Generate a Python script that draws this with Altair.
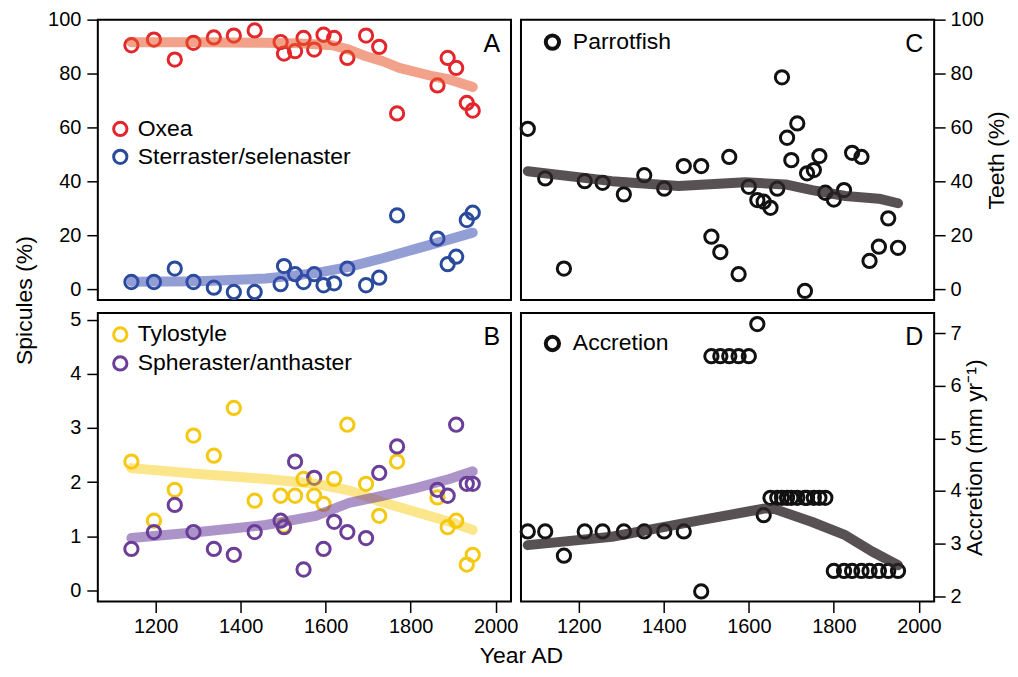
import altair as alt
import pandas as pd

FONT = "Liberation Sans"

# ---------------- data: spicules (panels A, B) ----------------
spic_years = [1143, 1196, 1245, 1289, 1337, 1384, 1433, 1494, 1502, 1528, 1548, 1573,
              1595, 1620, 1651, 1695, 1726, 1768, 1863, 1887, 1907, 1932, 1946]
oxea = [90.5, 92.6, 85.2, 91.4, 93.4, 94.1, 96.0, 91.7, 87.4, 88.3, 93.2, 88.9,
        94.4, 93.2, 85.8, 94.1, 89.9, 65.2, 75.6, 85.8, 82.1, 69.1, 66.3]
sterraster = [2.7, 2.7, 7.7, 2.7, 0.6, -1.0, -1.0, 1.9, 8.6, 5.6, 2.7, 5.6,
              1.5, 2.2, 7.7, 1.5, 4.3, 27.4, 18.8, 9.3, 12.1, 25.7, 28.4]
tylostyle = [2.38, 1.29, 1.86, 2.86, 2.49, 3.37, 1.66, 1.75, 1.20, 1.75, 2.06, 1.75,
             1.60, 2.06, 3.06, 1.97, 1.38, 2.38, 1.72, 1.17, 1.29, 0.48, 0.66]
spheraster = [0.77, 1.08, 1.58, 1.08, 0.77, 0.66, 1.08, 1.29, 1.17, 2.38, 0.39, 2.08,
              0.77, 1.27, 1.08, 0.97, 2.17, 2.66, 1.86, 1.75, 3.06, 1.97, 1.97]

# trend lines
oxea_trend_years = [1143, 1302, 1459, 1538, 1616, 1655, 1695, 1734, 1773, 1852, 1891, 1946]
oxea_trend = [91.6, 91.6, 91.4, 91.2, 90.5, 88.9, 86.4, 84.6, 82.1, 79.0, 77.8, 75.0]
sterr_trend_years = [1143, 1302, 1459, 1577, 1655, 1734, 1812, 1891, 1946]
sterr_trend = [2.8, 3.0, 4.0, 6.0, 8.3, 11.5, 15.0, 18.5, 21.0]
tylo_trend_years = [1143, 1302, 1459, 1577, 1655, 1734, 1812, 1891, 1946]
tylo_trend = [2.26, 2.15, 2.06, 1.97, 1.85, 1.63, 1.45, 1.27, 1.12]
sphe_trend_years = [1143, 1302, 1459, 1577, 1655, 1734, 1812, 1891, 1946]
sphe_trend = [0.97, 1.08, 1.21, 1.38, 1.62, 1.75, 1.89, 2.06, 2.20]

# ---------------- data: core (panels C, D) ----------------
core_years = [1080, 1121, 1165, 1214, 1256, 1306, 1354, 1401, 1447, 1488, 1512, 1533,
              1554, 1576, 1600, 1620, 1635, 1651, 1667, 1678, 1690, 1700, 1714, 1732,
              1737, 1753, 1766, 1780, 1800, 1824, 1843, 1865, 1884, 1906, 1928, 1951]
parrotfish = [59.5, 41.1, 7.7, 40.1, 39.5, 35.2, 42.3, 37.3, 45.7, 45.7, 19.5, 13.8,
              49.1, 5.6, 38.0, 33.1, 32.5, 30.2, 37.3, 78.6, 56.2, 47.9, 61.5, -0.6,
              43.0, 44.2, 49.4, 35.8, 33.3, 36.8, 50.6, 49.1, 10.5, 15.8, 26.3, 15.4]
accretion = [3.23, 3.23, 2.77, 3.23, 3.23, 3.23, 3.23, 3.23, 3.23, 2.09, 6.56, 6.56,
             6.56, 6.56, 6.56, 7.17, 3.54, 3.87, 3.87, 3.87, 3.87, 3.87, 3.87, 3.87,
             3.87, 3.87, 3.87, 3.87, 2.48, 2.48, 2.48, 2.48, 2.48, 2.48, 2.48, 2.48]
parrot_trend_years = [1080, 1278, 1435, 1592, 1686, 1749, 1827, 1906, 1951]
parrot_trend = [43.8, 40.1, 38.3, 39.7, 38.9, 36.8, 34.6, 33.6, 31.9]
accr_trend_years = [1080, 1278, 1490, 1592, 1640, 1663, 1749, 1827, 1890, 1951]
accr_trend = [2.97, 3.13, 3.45, 3.60, 3.67, 3.65, 3.41, 3.16, 2.85, 2.59]

panel_letters = ["A", "B", "C", "D"]
x_ticks = [1200, 1400, 1600, 1800, 2000]

# ---------------- layout / style ----------------
W = 414
H_TOP = 281
H_BOT = 289
XDOM = [1064, 2036]


def y_axis(orient, values, title=None, **kw):
    props = dict(orient=orient, values=values, tickSize=11, tickWidth=1.5, tickColor="black",
                 domain=False, grid=False, labelFontSize=20, labelFont=FONT, labelColor="black",
                 labelPadding=6, labelFlush=False, title=title, titleFontSize=23, titleFont=FONT,
                 titleFontWeight="normal", titleColor="black", titleAngle=270)
    props.update(kw)
    return alt.Axis(**props)


def x_axis(title=None, **kw):
    props = dict(values=x_ticks, format="d", tickSize=11, tickWidth=1.5, tickColor="black",
                 domain=False, grid=False, labelFontSize=20, labelFont=FONT, labelColor="black",
                 labelPadding=4, labelFlush=False, title=title, titleFontSize=23, titleFont=FONT,
                 titleFontWeight="normal", titleColor="black")
    props.update(kw)
    return alt.Axis(**props)


def legend(lx, ly, offset, sw, rowpad):
    return alt.Legend(orient="none", legendX=lx, legendY=ly, title=None, symbolType="circle",
                      symbolSize=177, symbolStrokeWidth=sw, labelFontSize=23, labelFont=FONT,
                      labelColor="black", rowPadding=rowpad, labelOffset=offset, padding=0,
                      labelLimit=500)


def panel(years, names, values_list, colors, trends, ydom, yax, xax, leg, letter, height):
    rows = []
    for name, vals in zip(names, values_list):
        for yr, v in zip(years, vals):
            rows.append({"Year": yr, "Value": v, "Series": name})
    df = pd.DataFrame(rows)
    xenc = alt.X("Year:Q", scale=alt.Scale(domain=XDOM, nice=False, zero=False), axis=xax)
    yenc = alt.Y("Value:Q", scale=alt.Scale(domain=ydom, nice=False, zero=False), axis=yax)
    pts = alt.Chart(df).mark_point(shape="circle", filled=False, size=177, strokeWidth=3,
                                   opacity=1).encode(
        x=xenc, y=yenc,
        color=alt.Color("Series:N", scale=alt.Scale(domain=names, range=colors), legend=leg),
    )
    layers = [pts]
    for tyears, tvals, tcolor, top in trends:
        tdf = pd.DataFrame({"Year": tyears, "Value": tvals})
        layers.append(alt.Chart(tdf).mark_line(color=tcolor, strokeWidth=10, opacity=top,
                                               strokeCap="round", strokeJoin="round").encode(
            x=xenc, y=yenc))
    lab = alt.Chart(pd.DataFrame({"label": [letter]})).mark_text(
        align="right", baseline="alphabetic", fontSize=25, font=FONT, color="black"
    ).encode(x=alt.value(W - 11), y=alt.value(32), text="label:N")
    layers.append(lab)
    return alt.layer(*layers).properties(width=W, height=height)


pA = panel(spic_years, ["Oxea", "Sterraster/selenaster"], [oxea, sterraster],
           ["#e3262b", "#2a4b9b"],
           [(oxea_trend_years, oxea_trend, "#e8552a", 0.55),
            (sterr_trend_years, sterr_trend, "#3a4fb0", 0.55)],
           [-4, 100], y_axis("left", [0, 20, 40, 60, 80, 100], "Spicules (%)", titleY=281,
                             titlePadding=11),
           None, legend(11, 98, 6, 3, 1), panel_letters[0], H_TOP)

pB = panel(spic_years, ["Tylostyle", "Spheraster/anthaster"], [tylostyle, spheraster],
           ["#f5c811", "#6b3e98"],
           [(tylo_trend_years, tylo_trend, "#f8c800", 0.45),
            (sphe_trend_years, sphe_trend, "#6a3d9a", 0.55)],
           [-0.2, 5.12], y_axis("left", [0, 1, 2, 3, 4, 5]),
           x_axis("Year AD", titleX=424, titlePadding=8), legend(11, 10, 6, 3, 2),
           panel_letters[1], H_BOT)

pC = panel(core_years, ["Parrotfish"], [parrotfish], ["#111111"],
           [(parrot_trend_years, parrot_trend, "#2e2628", 0.8)],
           [-4, 100], y_axis("right", [0, 20, 40, 60, 80, 100], "Teeth (%)",
                             titleBaseline="top", titlePadding=2, labelPadding=5),
           None, legend(20, 11, 9, 4, 1), panel_letters[2], H_TOP)

pD = panel(core_years, ["Accretion"], [accretion], ["#111111"],
           [(accr_trend_years, accr_trend, "#2e2628", 0.8)],
           [1.9, 7.38], y_axis("right", [2, 3, 4, 5, 6, 7], "Accretion (mm yr⁻¹)",
                               titleBaseline="top", titlePadding=2, labelPadding=5),
           x_axis(), legend(20, 19, 9, 4, 1), panel_letters[3], H_BOT)

chart = alt.concat(pA, pC, pB, pD, columns=2, spacing={"row": 13, "column": 10},
                   bounds="flush").resolve_scale(
    color="independent", x="independent", y="independent"
).properties(
    padding={"left": 4, "right": 0, "top": 0, "bottom": 0},
    background="white",
).configure_view(stroke="black", strokeWidth=2)

chart.save("out.html", embed_options={"renderer": "svg", "actions": False})
